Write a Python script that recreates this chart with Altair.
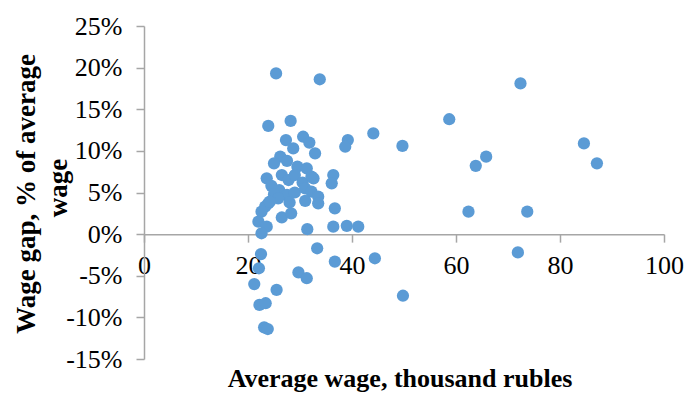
import altair as alt
import pandas as pd

# Average wage (thousand rubles) and wage gap (share of average wage) by region
avg_wage = [
    25.4, 33.8, 72.4, 58.7, 23.9, 28.2, 44.1, 27.3, 30.6, 31.8,
    32.9, 26.2, 28.7, 39.2, 38.7, 49.7, 84.6, 87.1, 65.8, 63.8,
    25.0, 27.5, 29.5, 31.3, 23.6, 26.5, 27.8, 29.0, 30.5, 32.2,
    32.6, 36.4, 36.1, 24.5, 26.0, 27.5, 29.0, 31.0, 32.2, 25.0,
    33.5, 33.5, 31.0, 28.0, 25.8, 23.9, 23.3, 24.2, 22.6, 26.5,
    28.3, 36.7, 22.0, 23.6, 22.6, 31.4, 36.4, 39.0, 41.2, 62.4,
    73.7, 33.3, 22.5, 22.1, 36.7, 44.4, 71.9, 21.2, 25.5, 29.7,
    31.3, 22.2, 23.4, 49.8, 23.1, 23.8,
]
wage_gap = [
    0.193, 0.186, 0.181, 0.138, 0.130, 0.136, 0.121, 0.113, 0.117, 0.110,
    0.097, 0.093, 0.103, 0.113, 0.105, 0.106, 0.109, 0.085, 0.093, 0.082,
    0.085, 0.088, 0.081, 0.079, 0.067, 0.071, 0.065, 0.071, 0.062, 0.069,
    0.067, 0.071, 0.061, 0.058, 0.053, 0.047, 0.050, 0.055, 0.051, 0.048,
    0.045, 0.037, 0.040, 0.038, 0.043, 0.037, 0.033, 0.039, 0.027, 0.020,
    0.025, 0.031, 0.015, 0.009, 0.001, 0.006, 0.009, 0.010, 0.009, 0.027,
    0.027, -0.017, -0.024, -0.041, -0.033, -0.029, -0.022, -0.060, -0.067, -0.046,
    -0.053, -0.085, -0.083, -0.074, -0.112, -0.114,
]

x_ticks = [0, 20, 40, 60, 80, 100]
y_ticks = [-0.15, -0.10, -0.05, 0.0, 0.05, 0.10, 0.15, 0.20, 0.25]

W, H = 520, 333
Y_MIN, Y_MAX = -0.15, 0.25
# pixel offset that moves the x axis up to the 0% line
x_axis_offset = -(H - H * Y_MAX / (Y_MAX - Y_MIN))

FONT = "Liberation Serif"
AXIS_GRAY = "#A6A6A6"
POINT_BLUE = "#5B9BD5"

df = pd.DataFrame({"wage": avg_wage, "gap": wage_gap})

points = alt.Chart(df).mark_circle(size=150, color=POINT_BLUE, opacity=1).encode(
    x=alt.X(
        "wage:Q",
        scale=alt.Scale(domain=[0, 100], nice=False, zero=True),
        axis=alt.Axis(
            values=x_ticks,
            title=None,
            offset=x_axis_offset,
            grid=False,
            domainColor=AXIS_GRAY,
            domainWidth=1.5,
            tickColor=AXIS_GRAY,
            tickWidth=1.5,
            tickSize=8,
            labelFont=FONT,
            labelFontSize=26,
            labelColor="#000000",
            labelPadding=10,
            labelFlush=False,
            labelOverlap=False,
        ),
    ),
    y=alt.Y(
        "gap:Q",
        scale=alt.Scale(domain=[Y_MIN, Y_MAX], nice=False, zero=False),
        axis=alt.Axis(
            values=y_ticks,
            title=None,
            grid=False,
            domainColor=AXIS_GRAY,
            domainWidth=1.5,
            tickColor=AXIS_GRAY,
            tickWidth=1.5,
            tickSize=8,
            labelFont=FONT,
            labelFontSize=26,
            labelColor="#000000",
            labelPadding=14,
            labelFlush=False,
            labelOverlap=False,
            labelExpr="(datum.value < -0.0001 ? '-' : '') + format(abs(datum.value), '.0%')",
        ),
    ),
)

title_style = dict(font=FONT, fontWeight="bold", color="#000000", baseline="middle", align="center")

x_title = alt.Chart(pd.DataFrame({"t": ["Average wage, thousand rubles"]})).mark_text(
    fontSize=26, **title_style
).encode(text="t:N", x=alt.value(256), y=alt.value(353))

y_title_1 = alt.Chart(pd.DataFrame({"t": ["Wage gap, % of average"]})).mark_text(
    fontSize=27, angle=270, **title_style
).encode(text="t:N", x=alt.value(-117), y=alt.value(168))

y_title_2 = alt.Chart(pd.DataFrame({"t": ["wage"]})).mark_text(
    fontSize=27, angle=270, **title_style
).encode(text="t:N", x=alt.value(-85), y=alt.value(162))

chart = (
    alt.layer(points, x_title, y_title_1, y_title_2)
    .properties(
        width=W,
        height=H,
        autosize=alt.AutoSizeParams(type="none"),
        padding={"left": 144, "top": 26, "right": 23, "bottom": 35},
        background="white",
    )
    .configure_view(stroke=None)
)

chart.save("out.html", embed_options={"renderer": "svg", "actions": False})
